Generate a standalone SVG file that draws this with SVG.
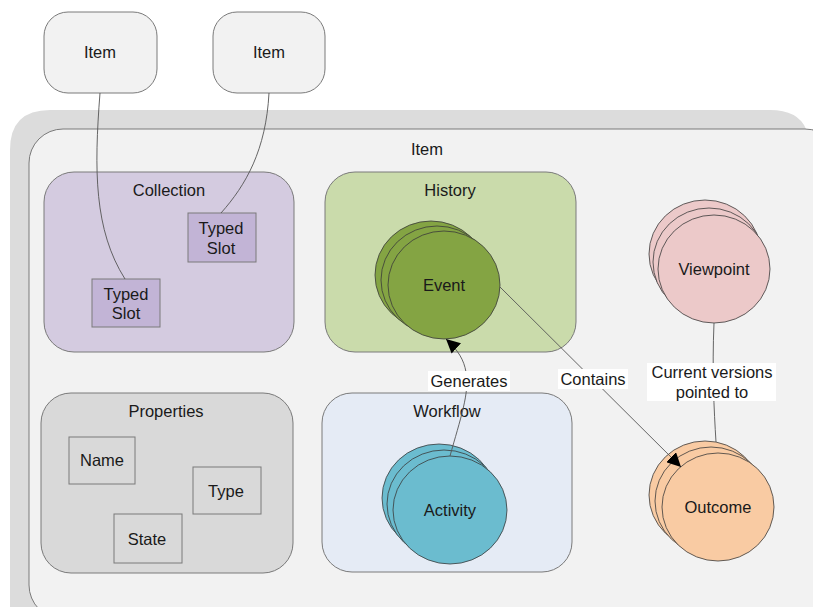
<svg xmlns="http://www.w3.org/2000/svg" width="813" height="607" viewBox="0 0 813 607">
<style>
text{font-family:"Liberation Sans",Arial,sans-serif;font-size:16.5px;fill:#1a1a1a;text-anchor:middle;dominant-baseline:central}
.box{stroke:#7a7a7a;stroke-width:1}
.circ{stroke:#3a3a3a;stroke-width:0.8}
.edge{fill:none;stroke:#555;stroke-width:0.9}
.lbl{fill:#fff}
</style>
<defs>
<marker id="arr" viewBox="0 0 10 10" refX="10" refY="5" markerWidth="14" markerHeight="14" markerUnits="userSpaceOnUse" orient="auto">
<path d="M0,0 L10,5 L0,10 z" fill="#000"/>
</marker>
</defs>
<rect width="813" height="607" fill="#fff"/>
<path d="M10,620 V150 Q10,110 50,110 H770 Q798,110 806,129 H813 V620 z" fill="#dcdcdc"/>
<g id="item-container">
<rect class="box" x="29" y="129" width="810" height="490" rx="34" fill="#f2f2f2"/>
<text x="427" y="149">Item</text>
</g>
<g id="item1"><rect class="box" x="44" y="12" width="113" height="81" rx="24" fill="#f2f2f2"/><text x="100" y="52">Item</text></g>
<g id="item2"><rect class="box" x="213" y="12" width="112" height="81" rx="24" fill="#f2f2f2"/><text x="269" y="52">Item</text></g>
<g id="collection">
<rect class="box" x="44" y="172" width="250" height="180" rx="30" fill="#d4cbe0"/>
<text x="169" y="190">Collection</text>
</g>
<g id="slot1"><rect class="box" x="188" y="213" width="68" height="49" fill="#c2b4d6"/><text x="221" y="228">Typed</text><text x="221" y="248">Slot</text></g>
<g id="slot2"><rect class="box" x="92" y="279" width="68" height="48" fill="#c2b4d6"/><text x="126" y="294">Typed</text><text x="126" y="313">Slot</text></g>
<g id="history">
<rect class="box" x="325" y="172" width="251" height="180" rx="30" fill="#cadbab"/>
<text x="450" y="190">History</text>
</g>
<g id="event">
<ellipse class="circ" cx="431" cy="275" rx="56" ry="54" fill="#84a443"/>
<ellipse class="circ" cx="437" cy="280" rx="56" ry="54" fill="#84a443"/>
<ellipse class="circ" cx="444" cy="285" rx="56" ry="54" fill="#84a443"/>
<text x="444" y="285">Event</text>
</g>
<g id="viewpoint">
<ellipse class="circ" cx="705" cy="254" rx="56" ry="54" fill="#ecc9c9"/>
<ellipse class="circ" cx="709" cy="262" rx="56" ry="54" fill="#ecc9c9"/>
<ellipse class="circ" cx="714" cy="269" rx="56" ry="54" fill="#ecc9c9"/>
<text x="714" y="269">Viewpoint</text>
</g>
<g id="properties">
<rect class="box" x="41" y="393" width="252" height="180" rx="30" fill="#d9d9d9"/>
<text x="166" y="411">Properties</text>
</g>
<g id="name"><rect class="box" x="69" y="437" width="66" height="47" fill="#d9d9d9"/><text x="102" y="460">Name</text></g>
<g id="type"><rect class="box" x="193" y="467" width="68" height="47" fill="#d9d9d9"/><text x="226" y="491">Type</text></g>
<g id="state"><rect class="box" x="114" y="514" width="68" height="49" fill="#d9d9d9"/><text x="147" y="539">State</text></g>
<g id="workflow">
<rect class="box" x="322" y="393" width="250" height="179" rx="30" fill="#e5ebf5"/>
<text x="447" y="411">Workflow</text>
</g>
<g id="activity">
<ellipse class="circ" cx="439" cy="498" rx="57" ry="54" fill="#6bbccf"/>
<ellipse class="circ" cx="444" cy="504" rx="57" ry="54" fill="#6bbccf"/>
<ellipse class="circ" cx="450" cy="510" rx="57" ry="54" fill="#6bbccf"/>
<text x="450" y="510">Activity</text>
</g>
<g id="outcome">
<ellipse class="circ" cx="705" cy="495" rx="56" ry="54" fill="#f9cba3"/>
<ellipse class="circ" cx="711" cy="501" rx="56" ry="54" fill="#f9cba3"/>
<ellipse class="circ" cx="718" cy="507" rx="56" ry="54" fill="#f9cba3"/>
<text x="718" y="507">Outcome</text>
</g>
<g id="connectors">
<path class="edge" d="M100,93 C94,170 94,230 125,279"/>
<path class="edge" d="M269,93 C266,150 246,185 221,213"/>
<path class="edge" d="M450,456 C460,420 470,392 466,372 C464,360 458,350 446,339" marker-end="url(#arr)"/>
<path class="edge" d="M500,287 L681,467" marker-end="url(#arr)"/>
<path class="edge" d="M714,323 C712,370 714,410 716,442"/>
<rect class="lbl" x="428" y="371" width="82" height="20"/>
<text x="469" y="381">Generates</text>
<rect class="lbl" x="558" y="369" width="70" height="20"/>
<text x="593" y="379">Contains</text>
<rect class="lbl" x="647" y="363" width="129" height="38"/>
<text x="712" y="372">Current versions</text>
<text x="712" y="392">pointed to</text>
</g>
</svg>
